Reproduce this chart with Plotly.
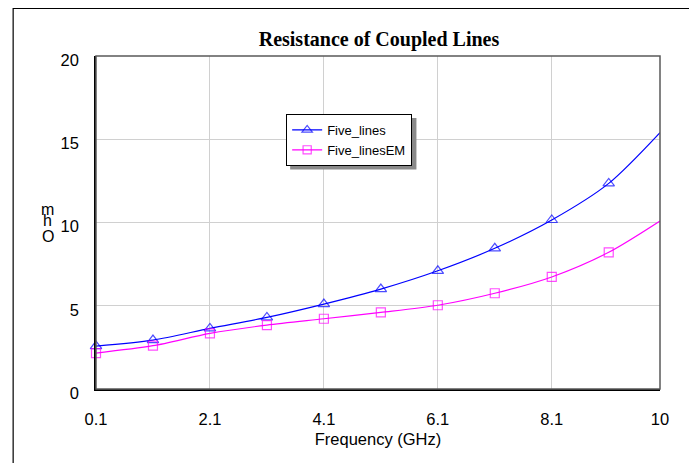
import plotly.graph_objects as go

# ---- data ----
freq_ghz = [0.1, 1.1, 2.1, 3.1, 4.1, 5.1, 6.1, 7.1, 8.1, 9.1, 10]
five_lines = [2.58, 2.94, 3.64, 4.30, 5.10, 6.00, 7.10, 8.45, 10.15, 12.35, 15.40]
five_lines_em = [2.16, 2.60, 3.34, 3.84, 4.22, 4.60, 5.03, 5.75, 6.73, 8.21, 10.09]
x_tickvals = [0.1, 2.1, 4.1, 6.1, 8.1, 10]
x_ticktext = ["0.1", "2.1", "4.1", "6.1", "8.1", "10"]
y_tickvals = [0, 5, 10, 15, 20]

W, H = 689, 463
L, R, T, B = 95.5, 28.5, 56, 74
pw, ph = W - L - R, H - T - B

def px(x):
    return (x - L) / pw

def py(y):
    return (H - B - y) / ph

n = len(freq_ghz)

fig = go.Figure()
fig.add_trace(go.Scatter(
    x=freq_ghz, y=five_lines, name="Five_lines", mode="lines+markers",
    line=dict(color="#0000ff", width=1.2, shape="spline", smoothing=0.8),
    marker=dict(symbol="triangle-up-open", size=[10] * (n - 1) + [0], color="#0000ff",
                line=dict(width=1.2, color="#0000ff")),
    cliponaxis=False,
))
fig.add_trace(go.Scatter(
    x=freq_ghz, y=five_lines_em, name="Five_linesEM", mode="lines+markers",
    line=dict(color="#ff00ff", width=1.2, shape="spline", smoothing=0.8),
    marker=dict(symbol="square-open", size=[9] * (n - 1) + [0], color="#ff00ff",
                line=dict(width=1.2, color="#ff00ff")),
    cliponaxis=False,
))

font = "Liberation Sans, Arial, sans-serif"

# legend box (approx. size of plotly's legend) top-left at (286, 114)
lg_x0, lg_y0, lg_x1, lg_y1 = 286, 114, 412.5, 165.5

shapes = [
    # outer frame
    dict(type="rect", xref="paper", yref="paper", x0=px(12.5), y0=py(520), x1=px(720), y1=py(8.5),
         line=dict(color="black", width=1.2), fillcolor="rgba(0,0,0,0)", layer="below"),
    # plot frame (top/right gray)
    dict(type="rect", xref="paper", yref="paper", x0=0, y0=0, x1=1, y1=1,
         line=dict(color="#5a5a5a", width=1.5), fillcolor="rgba(0,0,0,0)", layer="above"),
    # legend shadow
    dict(type="rect", xref="paper", yref="paper", x0=px(lg_x0 + 4), y0=py(lg_y1 + 4),
         x1=px(lg_x1 + 4), y1=py(lg_y0 + 4),
         line=dict(width=0), fillcolor="#8a8a8a", layer="above"),
]

annotations = [
    dict(text="m", x=px(47), y=py(209.5), xref="paper", yref="paper", showarrow=False,
         font=dict(family=font, size=16, color="black"), xanchor="center", yanchor="middle"),
    dict(text="h", x=px(47), y=py(220), xref="paper", yref="paper", showarrow=False,
         font=dict(family=font, size=16, color="black"), xanchor="center", yanchor="middle"),
    dict(text="O", x=px(47), y=py(236.5), xref="paper", yref="paper", showarrow=False,
         font=dict(family=font, size=16, color="black"), xanchor="center", yanchor="middle"),
]

fig.update_layout(
    width=W, height=H,
    margin=dict(l=L, r=R, t=T, b=B, pad=0),
    paper_bgcolor="white", plot_bgcolor="white",
    title=dict(text="<b>Resistance of Coupled Lines</b>", x=379 / W,
               xanchor="center", y=1 - 39 / H, yanchor="middle",
               font=dict(family="Liberation Serif, Times New Roman, serif", size=20, color="black")),
    showlegend=True,
    legend=dict(x=px(lg_x0), y=py(lg_y0), xanchor="left", yanchor="top",
                bgcolor="white", bordercolor="black", borderwidth=1,
                font=dict(family=font, size=13, color="black"), tracegroupgap=0),
    shapes=shapes,
    annotations=annotations,
    font=dict(family=font, color="black"),
)

fig.update_xaxes(
    range=[0.1, 10], tickvals=x_tickvals, ticktext=x_ticktext,
    showgrid=True, gridcolor="#d0d0d0", gridwidth=1.3,
    showline=True, linecolor="black", linewidth=1.5, zeroline=False,
    ticks="", ticklabelstandoff=14,
    tickfont=dict(family=font, size=16.5, color="black"),
    title=dict(text="Frequency (GHz)", font=dict(family=font, size=16.5, color="black"), standoff=7),
)
fig.update_yaxes(
    range=[0, 20], tickvals=y_tickvals,
    showgrid=True, gridcolor="#d0d0d0", gridwidth=1.3,
    showline=True, linecolor="black", linewidth=1.5, zeroline=False,
    ticks="", ticklabelstandoff=12, ticklabelshift=4,
    tickfont=dict(family=font, size=16.5, color="black"),
)

fig.write_html("out.html")
